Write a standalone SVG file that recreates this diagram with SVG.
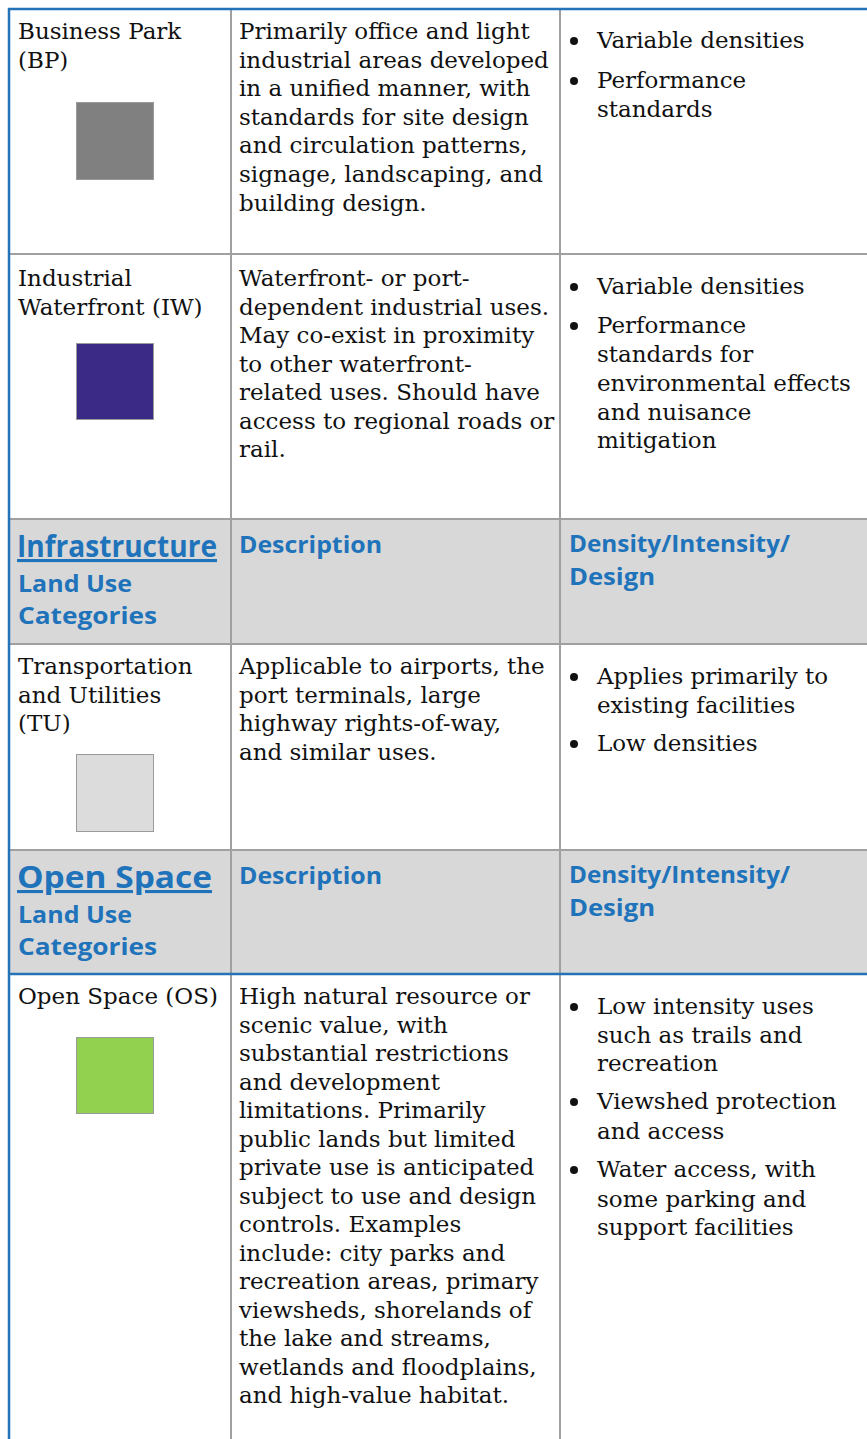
<svg xmlns="http://www.w3.org/2000/svg" width="867" height="1439" viewBox="0 0 867 1439">
<style>
.b{font-family:"DejaVu Serif","Liberation Serif",serif;font-size:23px;fill:#111}
.h{font-family:"Open Sans","Liberation Sans",sans-serif;font-weight:bold;fill:#1F73BA}
.h1{font-size:31px;text-decoration:underline}
.h2{font-size:24px}
.g{stroke:#A0A0A0;stroke-width:2;fill:none}
.bl{stroke:#2473B8;stroke-width:2.5;fill:none}
.sw{stroke:#9A9A9A;stroke-width:1}
.hd{fill:#D8D8D8}
</style>
<rect width="867" height="1439" fill="#fff"/>
<g id="header-bg">
<rect class="hd" x="10" y="519" width="857" height="125"/>
<rect class="hd" x="10" y="850" width="857" height="124"/>
</g>
<g id="grid">
<line class="g" x1="10" y1="254" x2="867" y2="254"/>
<line class="g" x1="10" y1="519" x2="867" y2="519"/>
<line class="g" x1="10" y1="644" x2="867" y2="644"/>
<line class="g" x1="10" y1="850" x2="867" y2="850"/>
<line class="g" x1="231" y1="9" x2="231" y2="1439"/>
<line class="g" x1="560" y1="9" x2="560" y2="1439"/>
<line class="bl" x1="9" y1="974" x2="867" y2="974"/>
<line class="bl" x1="8" y1="9" x2="867" y2="9"/>
<line class="bl" x1="9" y1="8" x2="9" y2="1439"/>
</g>
<g id="row-bp">
<text class="b" x="18" y="39">Business Park</text>
<text class="b" x="18" y="67.5">(BP)</text>
<rect class="sw" x="76.5" y="102.5" width="77" height="77" fill="#808080"/>
<text class="b" x="239" y="39">Primarily office and light</text>
<text class="b" x="239" y="67.6">industrial areas developed</text>
<text class="b" x="239" y="96.2">in a unified manner, with</text>
<text class="b" x="239" y="124.8">standards for site design</text>
<text class="b" x="239" y="153.4">and circulation patterns,</text>
<text class="b" x="239" y="182">signage, landscaping, and</text>
<text class="b" x="239" y="210.6">building design.</text>
<circle cx="574" cy="41" r="4" fill="#111"/>
<text class="b" x="597" y="48">Variable densities</text>
<circle cx="574" cy="81" r="4" fill="#111"/>
<text class="b" x="597" y="88">Performance</text>
<text class="b" x="597" y="117">standards</text>
</g>
<g id="row-iw">
<text class="b" x="18" y="286">Industrial</text>
<text class="b" x="18" y="314.5">Waterfront (IW)</text>
<rect class="sw" x="76.5" y="343.5" width="77" height="76" fill="#3C2A87"/>
<text class="b" x="239" y="286">Waterfront- or port-</text>
<text class="b" x="239" y="314.5">dependent industrial uses.</text>
<text class="b" x="239" y="343">May co-exist in proximity</text>
<text class="b" x="239" y="371.5">to other waterfront-</text>
<text class="b" x="239" y="400">related uses. Should have</text>
<text class="b" x="239" y="428.5">access to regional roads or</text>
<text class="b" x="239" y="457">rail.</text>
<circle cx="574" cy="287" r="4" fill="#111"/>
<text class="b" x="597" y="294">Variable densities</text>
<circle cx="574" cy="326" r="4" fill="#111"/>
<text class="b" x="597" y="333">Performance</text>
<text class="b" x="597" y="362">standards for</text>
<text class="b" x="597" y="391">environmental effects</text>
<text class="b" x="597" y="420">and nuisance</text>
<text class="b" x="597" y="448">mitigation</text>
</g>
<g id="header-infrastructure">
<text class="h h1" x="17" y="557" textLength="200" lengthAdjust="spacingAndGlyphs">Infrastructure</text>
<text class="h h2" x="18" y="592" textLength="114" lengthAdjust="spacingAndGlyphs">Land Use</text>
<text class="h h2" x="18" y="624" textLength="139" lengthAdjust="spacingAndGlyphs">Categories</text>
<text class="h h2" x="239" y="553" textLength="143" lengthAdjust="spacingAndGlyphs">Description</text>
<text class="h h2" x="569" y="552" textLength="221" lengthAdjust="spacingAndGlyphs">Density/Intensity/</text>
<text class="h h2" x="569" y="585" textLength="86" lengthAdjust="spacingAndGlyphs">Design</text>
</g>
<g id="row-tu">
<text class="b" x="18" y="674">Transportation</text>
<text class="b" x="18" y="702.5">and Utilities</text>
<text class="b" x="18" y="731">(TU)</text>
<rect class="sw" x="76.5" y="754.5" width="77" height="77" fill="#DCDCDC"/>
<text class="b" x="239" y="674">Applicable to airports, the</text>
<text class="b" x="239" y="702.5">port terminals, large</text>
<text class="b" x="239" y="731">highway rights-of-way,</text>
<text class="b" x="239" y="759.5">and similar uses.</text>
<circle cx="574" cy="677" r="4" fill="#111"/>
<text class="b" x="597" y="684">Applies primarily to</text>
<text class="b" x="597" y="713">existing facilities</text>
<circle cx="574" cy="744" r="4" fill="#111"/>
<text class="b" x="597" y="751">Low densities</text>
</g>
<g id="header-openspace">
<text class="h h1" x="17" y="888" textLength="195" lengthAdjust="spacingAndGlyphs">Open Space</text>
<text class="h h2" x="18" y="923" textLength="114" lengthAdjust="spacingAndGlyphs">Land Use</text>
<text class="h h2" x="18" y="955" textLength="139" lengthAdjust="spacingAndGlyphs">Categories</text>
<text class="h h2" x="239" y="884" textLength="143" lengthAdjust="spacingAndGlyphs">Description</text>
<text class="h h2" x="569" y="883" textLength="221" lengthAdjust="spacingAndGlyphs">Density/Intensity/</text>
<text class="h h2" x="569" y="916" textLength="86" lengthAdjust="spacingAndGlyphs">Design</text>
</g>
<g id="row-os">
<text class="b" x="18" y="1004">Open Space (OS)</text>
<rect class="sw" x="76.5" y="1037.5" width="77" height="76" fill="#92D050"/>
<text class="b" x="239" y="1004">High natural resource or</text>
<text class="b" x="239" y="1032.5">scenic value, with</text>
<text class="b" x="239" y="1061">substantial restrictions</text>
<text class="b" x="239" y="1089.5">and development</text>
<text class="b" x="239" y="1118">limitations. Primarily</text>
<text class="b" x="239" y="1146.5">public lands but limited</text>
<text class="b" x="239" y="1175">private use is anticipated</text>
<text class="b" x="239" y="1203.5">subject to use and design</text>
<text class="b" x="239" y="1232">controls. Examples</text>
<text class="b" x="239" y="1260.5">include: city parks and</text>
<text class="b" x="239" y="1289">recreation areas, primary</text>
<text class="b" x="239" y="1317.5">viewsheds, shorelands of</text>
<text class="b" x="239" y="1346">the lake and streams,</text>
<text class="b" x="239" y="1374.5">wetlands and floodplains,</text>
<text class="b" x="239" y="1403">and high-value habitat.</text>
<circle cx="574" cy="1007" r="4" fill="#111"/>
<text class="b" x="597" y="1014">Low intensity uses</text>
<text class="b" x="597" y="1043">such as trails and</text>
<text class="b" x="597" y="1071">recreation</text>
<circle cx="574" cy="1102" r="4" fill="#111"/>
<text class="b" x="597" y="1109">Viewshed protection</text>
<text class="b" x="597" y="1139">and access</text>
<circle cx="574" cy="1170" r="4" fill="#111"/>
<text class="b" x="597" y="1177">Water access, with</text>
<text class="b" x="597" y="1207">some parking and</text>
<text class="b" x="597" y="1235">support facilities</text>
</g>
</svg>
